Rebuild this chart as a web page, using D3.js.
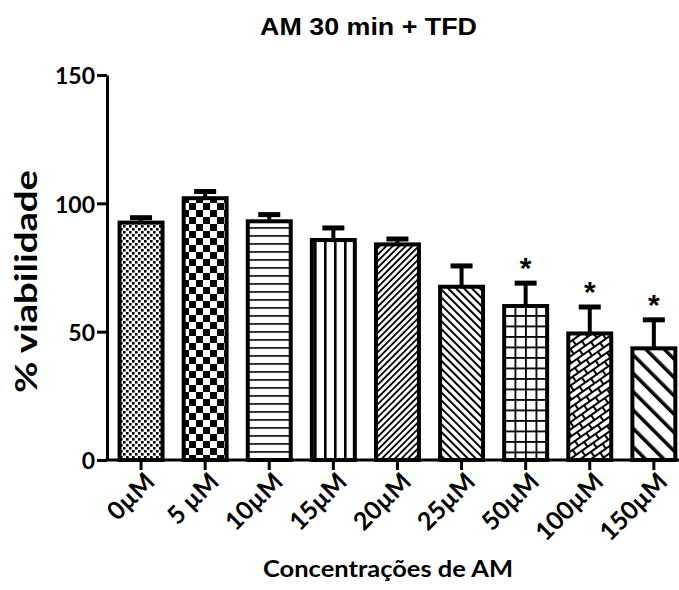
<!DOCTYPE html>
<html>
<head>
<meta charset="utf-8">
<script src="https://cdn.jsdelivr.net/npm/d3@7"></script>
<style>
  body { margin: 0; background: #fff; }
  svg { display: block; }
  .title { font-family: "Liberation Sans", Arial, sans-serif; font-weight: bold; }
  .lbl { font-family: Lato, "Open Sans", sans-serif; font-weight: bold; }
</style>
</head>
<body>
<div id="chart"></div>
<script>
// data
const categories = ["0µM", "5 µM", "10µM", "15µM", "20µM", "25µM", "50µM", "100µM", "150µM"];
const means = [92.5, 102, 93, 85.7, 84, 67.5, 60, 49.3, 43.5];
const errors = [2.3, 3, 3, 5.1, 2.5, 8.5, 9.3, 10.7, 11.5];
const signif = [false, false, false, false, false, false, true, true, true];
const yTicks = [0, 50, 100, 150];
const patternIds = ["dots", "checker", "hlines", "vlines", "diagA", "diagB", "grid", "brick", "diagC"];

const data = categories.map((c, i) => ({ cat: c, mean: means[i], err: errors[i], sig: signif[i], pat: patternIds[i] }));

const W = 679, H = 590;
const svg = d3.select("#chart").append("svg").attr("width", W).attr("height", H);

// patterns
const defs = svg.append("defs");
function pat(id, w, h, transform) {
  const p = defs.append("pattern").attr("id", id).attr("patternUnits", "userSpaceOnUse")
    .attr("width", w).attr("height", h);
  if (transform) p.attr("patternTransform", transform);
  p.append("rect").attr("width", w).attr("height", h).attr("fill", "#fff");
  return p;
}
let p = pat("dots", 6, 6);
p.append("rect").attr("x", 0).attr("y", 0).attr("width", 2.6).attr("height", 2.6).attr("fill", "#000");
p.append("rect").attr("x", 3).attr("y", 3).attr("width", 2.6).attr("height", 2.6).attr("fill", "#000");

p = pat("checker", 14, 14);
p.append("rect").attr("x", 0).attr("y", 0).attr("width", 7).attr("height", 7).attr("fill", "#000");
p.append("rect").attr("x", 7).attr("y", 7).attr("width", 7).attr("height", 7).attr("fill", "#000");

p = pat("hlines", 8, 8);
p.append("rect").attr("x", 0).attr("y", 3).attr("width", 8).attr("height", 1.8).attr("fill", "#222");

p = pat("vlines", 10, 10);
p.append("rect").attr("x", 4).attr("y", 0).attr("width", 2.6).attr("height", 10).attr("fill", "#000");

p = pat("diagA", 4.6, 4.6, "rotate(45)");
p.append("rect").attr("x", 0).attr("y", 0).attr("width", 1.8).attr("height", 4.6).attr("fill", "#000");

p = pat("diagB", 5.6, 5.6, "rotate(-45)");
p.append("rect").attr("x", 0).attr("y", 0).attr("width", 2).attr("height", 5.6).attr("fill", "#000");

p = pat("grid", 10.5, 10.5);
p.append("rect").attr("x", 0).attr("y", 0).attr("width", 10.5).attr("height", 1.8).attr("fill", "#000");
p.append("rect").attr("x", 0).attr("y", 0).attr("width", 1.8).attr("height", 10.5).attr("fill", "#000");

p = pat("brick", 14, 12, "rotate(-35)");
p.append("rect").attr("x", 0).attr("y", 0).attr("width", 14).attr("height", 2).attr("fill", "#000");
p.append("rect").attr("x", 0).attr("y", 6).attr("width", 14).attr("height", 2).attr("fill", "#000");
p.append("rect").attr("x", 0).attr("y", 0).attr("width", 2).attr("height", 6).attr("fill", "#000");
p.append("rect").attr("x", 7).attr("y", 6).attr("width", 2).attr("height", 6).attr("fill", "#000");

p = pat("diagC", 13, 13, "rotate(-45)");
p.append("rect").attr("x", 0).attr("y", 0).attr("width", 3.5).attr("height", 13).attr("fill", "#000");

// scales
const x = d3.scaleBand().domain(categories).range([109, 109 + 9 * 64.1])
  .paddingInner(0.33).paddingOuter(0.165);
const y = d3.scaleLinear().domain([0, 150]).range([460, 75]);

// bars
svg.append("g").selectAll("rect").data(data).join("rect")
  .attr("x", d => x(d.cat))
  .attr("y", d => y(d.mean))
  .attr("width", x.bandwidth())
  .attr("height", d => y(0) - y(d.mean))
  .attr("fill", d => "url(#" + d.pat + ")")
  .attr("stroke", "#000")
  .attr("stroke-width", 4);

// error bars (upper only)
const eb = svg.append("g").selectAll("g").data(data).join("g");
eb.append("line")
  .attr("x1", d => x(d.cat) + x.bandwidth() / 2).attr("x2", d => x(d.cat) + x.bandwidth() / 2)
  .attr("y1", d => y(d.mean)).attr("y2", d => y(d.mean + d.err))
  .attr("stroke", "#000").attr("stroke-width", 4);
eb.append("line")
  .attr("x1", d => x(d.cat) + x.bandwidth() / 2 - 11).attr("x2", d => x(d.cat) + x.bandwidth() / 2 + 11)
  .attr("y1", d => y(d.mean + d.err) + 1).attr("y2", d => y(d.mean + d.err) + 1)
  .attr("stroke", "#000").attr("stroke-width", 5);

// significance stars
svg.append("g").selectAll("text").data(data.filter(d => d.sig)).join("text")
  .attr("class", "title")
  .attr("x", d => x(d.cat) + x.bandwidth() / 2)
  .attr("y", d => y(d.mean + d.err) - 4)
  .attr("text-anchor", "middle")
  .attr("font-size", 30)
  .text("*");

// y axis
const yAxis = svg.append("g").attr("transform", "translate(107,0)")
  .call(d3.axisLeft(y).tickValues(yTicks).tickSize(10).tickPadding(2).tickSizeOuter(0));
yAxis.select(".domain").attr("stroke-width", 3);
yAxis.selectAll(".tick line").attr("stroke-width", 3);
yAxis.selectAll(".tick text").attr("class", "lbl").attr("font-size", 23).attr("fill", "#000")
  .attr("dy", "0.38em");

// x axis
const xAxis = svg.append("g").attr("transform", "translate(0,460)")
  .call(d3.axisBottom(x).tickSize(10).tickSizeOuter(0));
xAxis.select(".domain").attr("stroke-width", 3).attr("d", "M105.5,0H690");
xAxis.selectAll(".tick line").attr("stroke-width", 3);
xAxis.selectAll(".tick text").attr("class", "lbl").attr("font-size", 25).attr("fill", "#000")
  .attr("text-anchor", "end")
  .attr("transform", "translate(9,17) rotate(-45)")
  .attr("dy", "0.35em").attr("y", 0).attr("x", 0);

// titles
svg.append("text").attr("class", "title")
  .attr("x", 368.5).attr("y", 35).attr("text-anchor", "middle")
  .attr("font-size", 24).attr("textLength", 217).attr("lengthAdjust", "spacingAndGlyphs")
  .text("AM 30 min + TFD");

svg.append("text").attr("class", "lbl")
  .attr("transform", "translate(37,281.5) rotate(-90)")
  .attr("text-anchor", "middle").attr("font-size", 31)
  .attr("textLength", 223).attr("lengthAdjust", "spacingAndGlyphs")
  .text("% viabilidade");

svg.append("text").attr("class", "lbl")
  .attr("x", 388).attr("y", 577).attr("text-anchor", "middle")
  .attr("font-size", 23).attr("textLength", 250).attr("lengthAdjust", "spacingAndGlyphs")
  .text("Concentrações de AM");
</script>
</body>
</html>
